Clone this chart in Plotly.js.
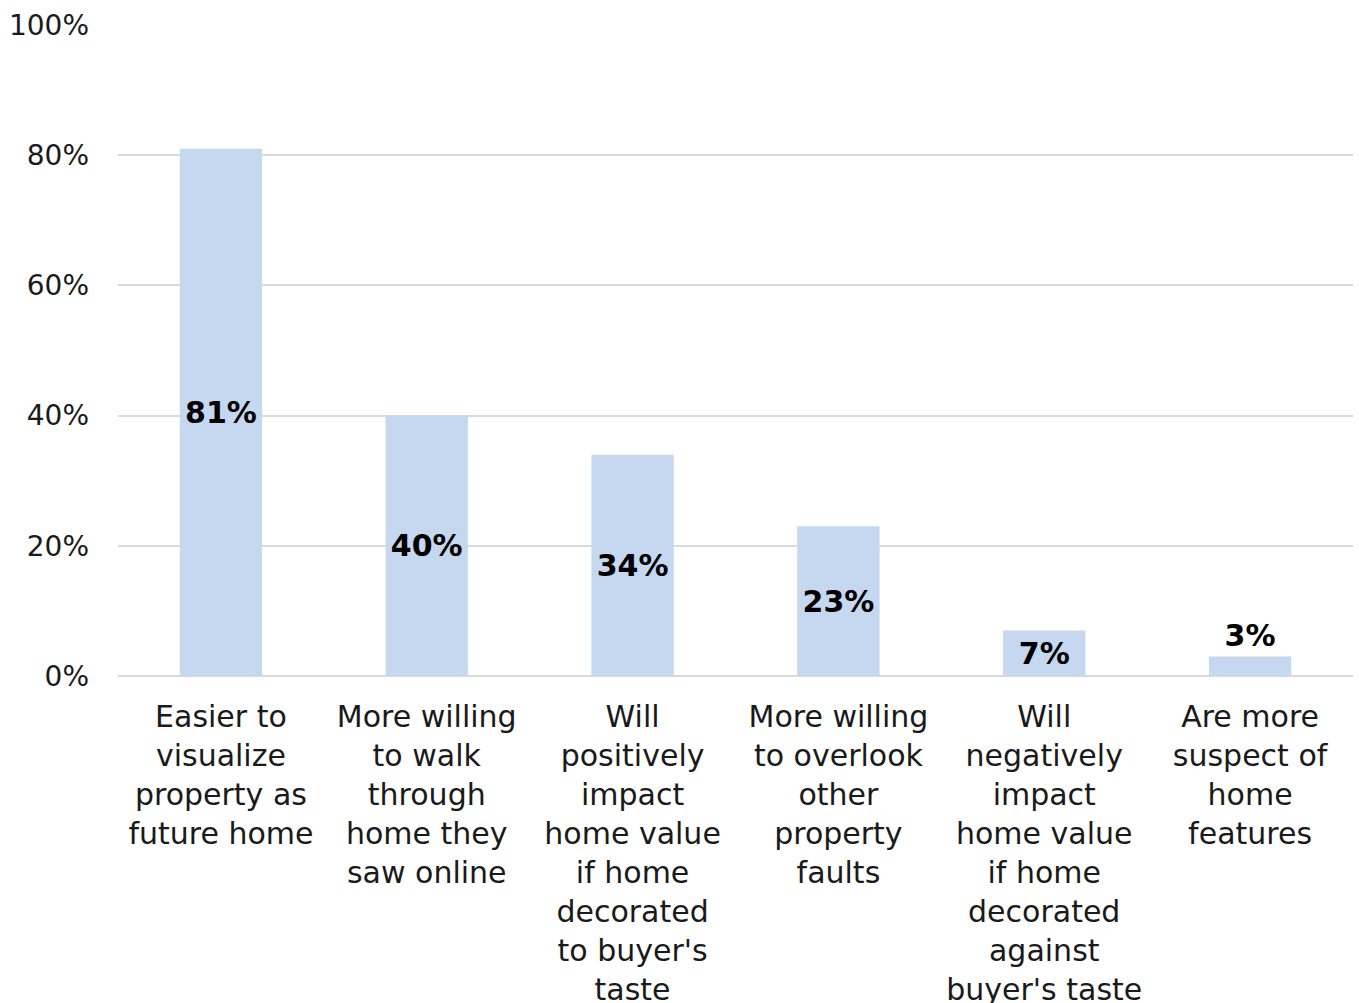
<!DOCTYPE html>
<html>
<head>
<meta charset="utf-8">
<script src="https://cdn.plot.ly/plotly-3.0.1.min.js"></script>
<style>html,body{margin:0;padding:0;background:#fff;}#chart{width:1359px;height:1003px;}</style>
</head>
<body>
<div id="chart"></div>
<script>
const categories = [
  "Easier to<br>visualize<br>property as<br>future home",
  "More willing<br>to walk<br>through<br>home they<br>saw online",
  "Will<br>positively<br>impact<br>home value<br>if home<br>decorated<br>to buyer's<br>taste",
  "More willing<br>to overlook<br>other<br>property<br>faults",
  "Will<br>negatively<br>impact<br>home value<br>if home<br>decorated<br>against<br>buyer's taste",
  "Are more<br>suspect of<br>home<br>features"
];
const values = [81, 40, 34, 23, 7, 3];
const valueLabels = ["81%", "40%", "34%", "23%", "7%", "3%"];
const yTickVals = [0, 20, 40, 60, 80, 100];
const yTickText = ["0%", "20%", "40%", "60%", "80%", "100%"];

const FONT = "DejaVu Sans, sans-serif";

const trace = {
  type: "bar",
  x: categories,
  y: values,
  text: valueLabels,
  textposition: values.map(v => v >= 5 ? "inside" : "outside"),
  insidetextanchor: "middle",
  constraintext: "none",
  cliponaxis: false,
  textfont: {family: FONT, size: 30, color: "#000", weight: "bold"},
  marker: {color: "#C6D7F0"},
  hoverinfo: "none"
};

const layout = {
  width: 1359, height: 1003,
  margin: {l: 118, r: 6, t: 25, b: 327},
  paper_bgcolor: "#fff", plot_bgcolor: "#fff",
  bargap: 0.6,
  showlegend: false,
  font: {family: FONT, color: "#1a1a1a"},
  xaxis: {
    type: "category",
    tickfont: {family: FONT, size: 30, color: "#1a1a1a"},
    showgrid: false, showline: false, ticks: "",
    tickangle: 0,
    ticklabelstandoff: 20,
    automargin: false
  },
  yaxis: {
    range: [0, 100],
    tickvals: yTickVals, ticktext: yTickText,
    tickfont: {family: FONT, size: 28, color: "#1a1a1a"},
    gridcolor: "#D9D9D9", gridwidth: 2,
    zeroline: true, zerolinecolor: "#D9D9D9", zerolinewidth: 2,
    showline: false, ticks: "",
    ticklabelstandoff: 28,
    automargin: false
  }
};

Plotly.newPlot("chart", [trace], layout, {displayModeBar: false, staticPlot: true});
</script>
</body>
</html>
